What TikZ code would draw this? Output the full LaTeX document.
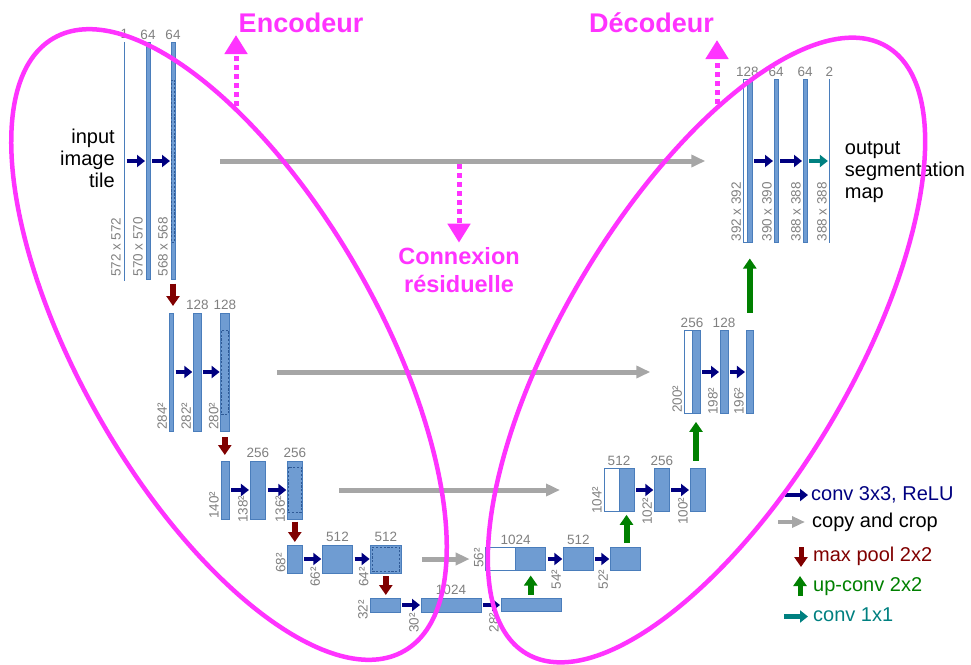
\documentclass[tikz,border=0pt]{standalone}
\usepackage{fontspec}
\setmainfont{Liberation Sans}
\usetikzlibrary{arrows.meta, positioning, calc}

\definecolor{barfill}{HTML}{6F9CD2}
\definecolor{barline}{HTML}{4A7DBB}
\definecolor{cropblue}{HTML}{2F5A96}
\definecolor{labgray}{HTML}{808080}
\definecolor{copygray}{HTML}{A6A6A6}
\definecolor{convblue}{HTML}{000080}
\definecolor{poolred}{HTML}{800000}
\definecolor{upgreen}{HTML}{008000}
\definecolor{outteal}{HTML}{008080}
\definecolor{annot}{HTML}{FF33FF}

\begin{document}
\begin{tikzpicture}[
    x=1pt, y=-1pt,
    bar/.style={draw=barline, fill=barfill, line width=0.6pt, inner sep=0pt, outer sep=0pt},
    gapbar/.style={bar, fill=white},
    crop/.style={draw=cropblue, dash pattern=on 2.2pt off 1.6pt, line width=0.8pt, inner sep=0pt},
    chan/.style={text=labgray, font=\fontsize{13.5}{14}\selectfont, inner sep=1pt},
    sizelab/.style={text=labgray, font=\fontsize{13.5}{14}\selectfont, inner sep=1pt, rotate=90, anchor=south west},
    conv/.style={draw=convblue, line width=4.5pt, -{Triangle[length=8pt, width=12pt]}, shorten <=2pt, shorten >=1pt},
    onebyone/.style={conv, draw=outteal},
    copyarrow/.style={draw=copygray, line width=5pt, -{Triangle[length=14pt, width=12pt]}},
    pool/.style={draw=poolred, line width=6pt, -{Triangle[length=10pt, width=13pt]}},
    upconv/.style={draw=upgreen, line width=6pt, -{Triangle[length=10pt, width=13pt]}},
    note/.style={text=annot, font=\fontsize{27}{30}\selectfont\bfseries, inner sep=0pt},
    pointer/.style={draw=annot, line width=5pt, dash pattern=on 5pt off 4pt, -{Triangle[length=19pt, width=22pt]}},
    ring/.style={draw=annot, line width=4.5pt},
    legtext/.style={font=\fontsize{20}{22}\selectfont, inner sep=0pt, anchor=west},
    side/.style={font=\fontsize{20}{22}\selectfont, inner sep=0pt}
]
\useasboundingbox (0,0) rectangle (971,664);

% ---------- ENCODER BARS
\node[bar, minimum width=0.8pt, minimum height=238pt] (e11) at (124.3,161) {};
\node[bar, minimum width=4pt, minimum height=237pt] (e12) at (148,161) {};
\node[bar, minimum width=4pt, minimum height=237pt] (e13) at (173,161) {};
\node[crop, minimum width=3pt, minimum height=162pt] (k13) at (173,161) {};

\node[bar, minimum width=4.4pt, minimum height=118pt] (e21) at (171.5,372) {};
\node[bar, minimum width=8pt, minimum height=118pt] (e22) at (197.3,372) {};
\node[bar, minimum width=8.3pt, minimum height=118pt] (e23) at (224.8,372) {};
\node[crop, minimum width=7pt, minimum height=84pt] (k23) at (224.8,372) {};

\node[bar, minimum width=8.3pt, minimum height=58pt] (e31) at (225.2,490) {};
\node[bar, minimum width=15.7pt, minimum height=58pt] (e32) at (257.8,490) {};
\node[bar, minimum width=15pt, minimum height=58pt] (e33) at (294.8,490) {};
\node[crop, minimum width=13.5pt, minimum height=45pt] (k33) at (294.8,489.5) {};

\node[bar, minimum width=14.6pt, minimum height=28pt] (e41) at (295,559) {};
\node[bar, minimum width=30.4pt, minimum height=28pt] (e42) at (337.5,559) {};
\node[bar, minimum width=30.3pt, minimum height=28pt] (e43) at (385.8,559) {};
\node[crop, minimum width=27pt, minimum height=24pt] (k43) at (385.8,559) {};

\node[bar, minimum width=30pt, minimum height=14pt] (e51) at (385,605) {};
\node[bar, minimum width=60pt, minimum height=14pt] (e52) at (451,605) {};
\node[bar, minimum width=60pt, minimum height=13pt] (e53) at (531,605) {};

% ---------- DECODER BARS
\node[bar, minimum width=30pt, minimum height=23pt] (d41) at (530.7,559) {};
\node[gapbar, minimum width=30pt, minimum height=23pt, left=0pt of d41] (d41w) {};
\node[bar, minimum width=30pt, minimum height=23pt] (d42) at (578.3,559) {};
\node[bar, minimum width=30pt, minimum height=23pt] (d43) at (625.3,559) {};

\node[bar, minimum width=15pt, minimum height=43pt] (d31) at (626.5,490) {};
\node[gapbar, minimum width=15pt, minimum height=43pt, left=0pt of d31] (d31w) {};
\node[bar, minimum width=15pt, minimum height=43pt] (d32) at (661.8,490) {};
\node[bar, minimum width=15pt, minimum height=43pt] (d33) at (697.5,490) {};

\node[bar, minimum width=8pt, minimum height=83pt] (d21) at (696,372) {};
\node[gapbar, minimum width=7.7pt, minimum height=83pt, left=0pt of d21] (d21w) {};
\node[bar, minimum width=8pt, minimum height=83pt] (d22) at (724,372) {};
\node[bar, minimum width=7.7pt, minimum height=83pt] (d23) at (749.8,372) {};

\node[bar, minimum width=5pt, minimum height=163pt] (d11) at (749.8,161) {};
\node[gapbar, minimum width=4pt, minimum height=163pt, left=0pt of d11] (d11w) {};
\node[bar, minimum width=4pt, minimum height=163pt] (d12) at (776,161) {};
\node[bar, minimum width=4pt, minimum height=163pt] (d13) at (805,161) {};
\node[bar, minimum width=0.8pt, minimum height=163pt] (d14) at (829.3,161) {};

% ---------- CHANNEL COUNTS
\node[chan, above=2pt of e11] (c11) {1};
\node[chan, above=2pt of e12] (c12) {64};
\node[chan, above=2pt of e13] (c13) {64};
\node[chan, above=2pt of e22] (c22) {128};
\node[chan, above=2pt of e23] (c23) {128};
\node[chan, above=2pt of e32] (c32) {256};
\node[chan, above=2pt of e33] (c33) {256};
\node[chan, above=2pt of e42] (c42) {512};
\node[chan, above=2pt of e43] (c43) {512};
\node[chan, above=2pt of e52] (c52) {1024};
\node[chan, above=2pt of d41w.north east] (c41) {1024};
\node[chan, above=2pt of d42] (c42d) {512};
\node[chan, above=2pt of d31w.north east] (c31) {512};
\node[chan, above=2pt of d32] (c32d) {256};
\node[chan, above=2pt of d21w.north east] (c21) {256};
\node[chan, above=2pt of d22] (c22d) {128};
\node[chan, above=2pt of d11w.north east] (c11d) {128};
\node[chan, above=2pt of d12] (c12d) {64};
\node[chan, above=2pt of d13] (c13d) {64};
\node[chan, above=2pt of d14] (c14d) {2};

% ---------- FEATURE MAP SIZES
\node[sizelab] (s11) at ($(e11.south west)+(-2,-2)$) {572 x 572};
\node[sizelab] (s12) at ($(e12.south west)+(-2,-2)$) {570 x 570};
\node[sizelab] (s13) at ($(e13.south west)+(-2,-2)$) {568 x 568};
\node[sizelab] (s21) at ($(e21.south west)+(-1,0)$) {284²};
\node[sizelab] (s22) at ($(e22.south west)+(-1,0)$) {282²};
\node[sizelab] (s23) at ($(e23.south west)+(-1,0)$) {280²};
\node[sizelab] (s31) at ($(e31.south west)+(-1,1)$) {140²};
\node[sizelab] (s32) at ($(e32.south west)+(-1,5)$) {138²};
\node[sizelab] (s33) at ($(e33.south west)+(-1,5)$) {136²};
\node[sizelab] (s41) at ($(e41.south west)+(-1,1)$) {68²};
\node[sizelab] (s42) at ($(e42.south west)+(-1,15)$) {66²};
\node[sizelab] (s43) at ($(e43.south west)+(-1,15)$) {64²};
\node[sizelab] (s51) at ($(e51.south west)+(-1,9)$) {32²};
\node[sizelab] (s52) at ($(e52.south west)+(-1,22)$) {30²};
\node[sizelab] (s53) at ($(e53.south west)+(-1,22)$) {28²};
\node[sizelab] (t41) at ($(d41w.south west)+(-1,-1.5)$) {56²};
\node[sizelab] (t42) at ($(d42.south west)+(-1,20)$) {54²};
\node[sizelab] (t43) at ($(d43.south west)+(-1,20)$) {52²};
\node[sizelab] (t31) at ($(d31w.south west)+(-1,3.5)$) {104²};
\node[sizelab] (t32) at ($(d32.south west)+(-1,14.5)$) {102²};
\node[sizelab] (t33) at ($(d33.south west)+(-1,14.5)$) {100²};
\node[sizelab] (t21) at ($(d21w.south west)+(-1,0.5)$) {200²};
\node[sizelab] (t22) at ($(d22.south west)+(-1,2.5)$) {198²};
\node[sizelab] (t23) at ($(d23.south west)+(-1,2.5)$) {196²};
\node[sizelab] (t11) at ($(d11w.south west)+(-1,0)$) {392 x 392};
\node[sizelab] (t12) at ($(d12.south west)+(-1,0)$) {390 x 390};
\node[sizelab] (t13) at ($(d13.south west)+(-1,0)$) {388 x 388};
\node[sizelab] (t14) at ($(d14.south west)+(-1,0)$) {388 x 388};

% ---------- INPUT / OUTPUT
\node[side, align=right, left=9pt of e11, yshift=3pt] (intile) {input\\image\\tile};
\node[side, align=left, right=15pt of d14, yshift=-11pt] (outmap) {output\\segmentation\\map};

% ---------- CONV 3x3
\draw[conv] (e11) -- (e12);
\draw[conv] (e12) -- (e13);
\draw[conv] (e21) -- (e22);
\draw[conv] (e22) -- (e23);
\draw[conv] (e31) -- (e32);
\draw[conv] (e32) -- (e33);
\draw[conv] (e41) -- (e42);
\draw[conv] (e42) -- (e43);
\draw[conv] (e51) -- (e52);
\draw[conv] (e52) -- (e53);
\draw[conv] (d41) -- (d42);
\draw[conv] (d42) -- (d43);
\draw[conv] (d31) -- (d32);
\draw[conv] (d32) -- (d33);
\draw[conv] (d21) -- (d22);
\draw[conv] (d22) -- (d23);
\draw[conv] (d11) -- (d12);
\draw[conv] (d12) -- (d13);
\draw[onebyone] (d13) -- (d14);

% ---------- MAX POOL
\draw[pool, shorten <=4pt, shorten >=7pt] (e13.south) -- (e13.south |- e21.north);
\draw[pool, shorten <=6pt, shorten >=6pt] (e23.south) -- (e23.south |- e31.north);
\draw[pool, shorten <=2.5pt, shorten >=3pt] (e33.south) -- (e33.south |- e41.north);
\draw[pool, shorten <=3pt, shorten >=3pt] (e43.south) -- (e43.south |- e51.north);

% ---------- UP-CONV
\draw[upconv, shorten <=4pt, shorten >=5pt] (e53.north -| d41.south) -- (d41.south);
\draw[upconv, shorten <=4.5pt, shorten >=3.3pt] (d43.north -| d31.south) -- (d31.south);
\draw[upconv, shorten <=8pt, shorten >=8.4pt] (d33.north -| d21.south) -- (d21.south);
\draw[upconv, shorten <=17.7pt, shorten >=16pt] (d23.north -| d11.south) -- (d11.south);

% ---------- COPY AND CROP
\draw[copyarrow, shorten <=45pt, shorten >=38pt] (e13.east) -- (d11w.west);
\draw[copyarrow, shorten <=48pt, shorten >=34pt] (e23.east) -- (d21w.west);
\draw[copyarrow, shorten <=37pt, shorten >=44pt] (e33.east) -- (d31w.west);
\draw[copyarrow, shorten <=21pt, shorten >=16pt] (e43.east) -- (d41w.west);

% ---------- LEGEND
\node[legtext, text=convblue] (lg1) at (811,495) {conv 3x3, ReLU};
\node[legtext] (lg2) at (812,522) {copy and crop};
\node[legtext, text=poolred] (lg3) at (813,556) {max pool 2x2};
\node[legtext, text=upgreen] (lg4) at (813,587) {up-conv 2x2};
\node[legtext, text=outteal] (lg5) at (813,615) {conv 1x1};
\draw[conv] ([xshift=-28pt]lg1.west) -- ([xshift=-2pt]lg1.west);
\draw[copyarrow, line width=4.5pt, -{Triangle[length=13pt, width=11pt]}] ([xshift=-34pt]lg2.west) -- ([xshift=-7pt]lg2.west);
\draw[pool, line width=5pt] ([xshift=-12pt, yshift=9pt]lg3.west) -- ([xshift=-12pt, yshift=-11pt]lg3.west);
\draw[upconv, line width=5pt] ([xshift=-13pt, yshift=-9pt]lg4.west) -- ([xshift=-13pt, yshift=11pt]lg4.west);
\draw[onebyone] ([xshift=-31pt, yshift=-1.5pt]lg5.west) -- ([xshift=-4pt, yshift=-1.5pt]lg5.west);

% ---------- ANNOTATIONS
\node[note] (enc) at (301,23) {Encodeur};
\node[note] (dec) at (651.5,23) {Décodeur};
\node[note, font=\fontsize{23.5}{28}\selectfont\bfseries, align=center] (res) at (459,270.5) {Connexion\\résiduelle};
\coordinate (encfoot) at (236,106);
\coordinate (enctip) at (236,35);
\coordinate (decfoot) at (717,104);
\coordinate (dectip) at (717,40);
\coordinate (resfoot) at (459,164);
\draw[pointer] (encfoot) -- (enctip);
\draw[pointer] (decfoot) -- (dectip);
\draw[pointer, shorten >=5pt] (resfoot) -- (res.north);

% ---------- GROUPS (drawn on top)
\draw[ring, rotate around={-60.25:(229,344.5)}] (229,344.5) ellipse [x radius=353pt, y radius=149pt];
\draw[ring, rotate around={59.3:(706.5,350)}] (706.5,350) ellipse [x radius=353pt, y radius=144pt];

\end{tikzpicture}
\end{document}
